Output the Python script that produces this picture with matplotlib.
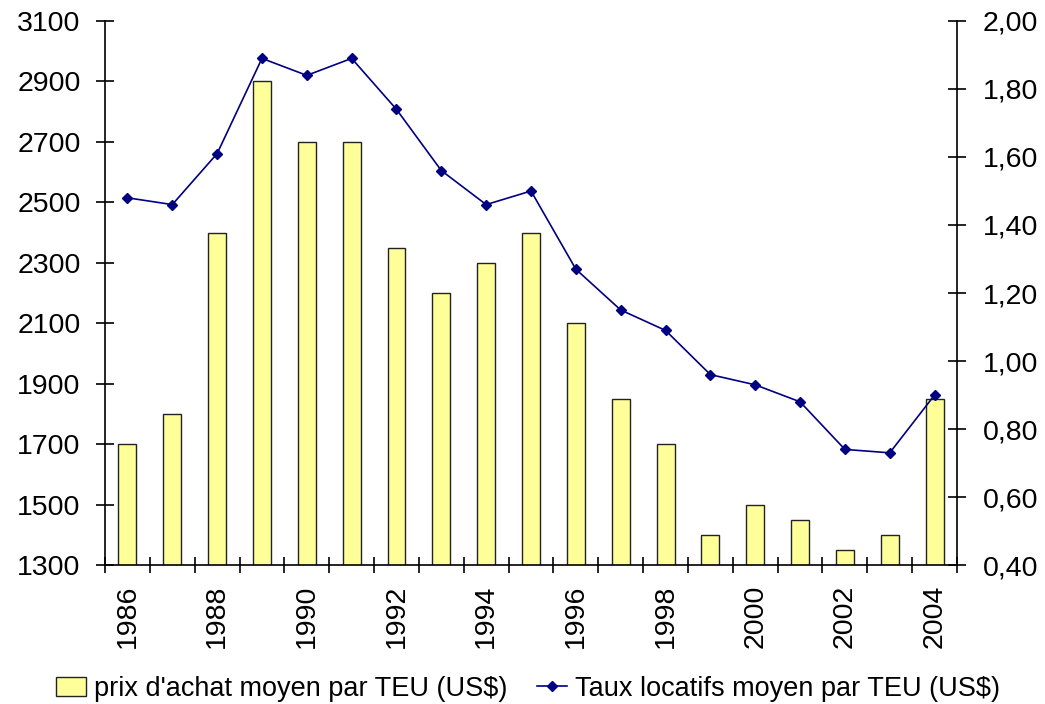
import matplotlib
matplotlib.use("Agg")
import matplotlib.pyplot as plt
from matplotlib.ticker import FuncFormatter

years = list(range(1986, 2005))
prix = [1700, 1800, 2400, 2900, 2700, 2700, 2350, 2200, 2300, 2400,
        2100, 1850, 1700, 1400, 1500, 1450, 1350, 1400, 1850]
taux = [1.48, 1.46, 1.61, 1.89, 1.84, 1.89, 1.74, 1.56, 1.46, 1.50,
        1.27, 1.15, 1.09, 0.96, 0.93, 0.88, 0.74, 0.73, 0.90]

plt.rcParams['font.family'] = ['Liberation Sans', 'DejaVu Sans']

fig = plt.figure(figsize=(10.45, 7.04), dpi=100)
ax = fig.add_axes([0.1005, 0.1974, 0.8153, 0.7728])
x = list(range(len(years)))

b = ax.bar(x, prix, width=0.4, bottom=0, color='#FFFF99', edgecolor='#222222',
           linewidth=1.0, label="prix d'achat moyen par TEU (US$)", zorder=2)
ax.set_ylim(1300, 3100)
ax.set_xlim(-0.5, len(years) - 0.5)
ax.set_yticks(range(1300, 3101, 200))

# ticks at category boundaries, labels at centres
ax.set_xticks([i - 0.5 for i in range(len(years) + 1)])
ax.set_xticklabels([])
ax.set_xticks([i for i in x if years[i] % 2 == 0], minor=True)
ax.set_xticklabels([str(years[i]) for i in x if years[i] % 2 == 0], minor=True,
                   rotation=90, fontsize=20.5)
ax.tick_params(axis='x', which='major', direction='inout', length=12, width=1.2)
ax.tick_params(axis='x', which='minor', length=0, pad=14)
ax.tick_params(axis='y', direction='inout', length=13, width=1.2, labelsize=20.5, pad=11)

for s in ['top', 'right']:
    ax.spines[s].set_visible(False)
ax.spines['left'].set_linewidth(1.2)
ax.spines['bottom'].set_linewidth(1.2)

ax2 = ax.twinx()
l, = ax2.plot(x, taux, color='#000080', marker='D', markersize=5, linewidth=1.2,
              label='Taux locatifs moyen par TEU (US$)', zorder=3)
ax2.set_ylim(0.4, 2.0)
ax2.set_yticks([0.4 + 0.2 * i for i in range(9)])
ax2.yaxis.set_major_formatter(FuncFormatter(lambda v, p: ('%.2f' % v).replace('.', ',')))
ax2.tick_params(axis='y', direction='inout', length=13, width=1.2, labelsize=20.5, pad=12)
for s in ['top', 'left', 'bottom']:
    ax2.spines[s].set_visible(False)
ax2.spines['right'].set_linewidth(1.2)

fig.legend(handles=[b, l], loc='center', bbox_to_anchor=(0.505, 0.022), ncol=2,
           frameon=False, fontsize=19.5, handlelength=1.1, handletextpad=0.3,
           columnspacing=1.1)

fig.savefig('out.png', dpi=100)
